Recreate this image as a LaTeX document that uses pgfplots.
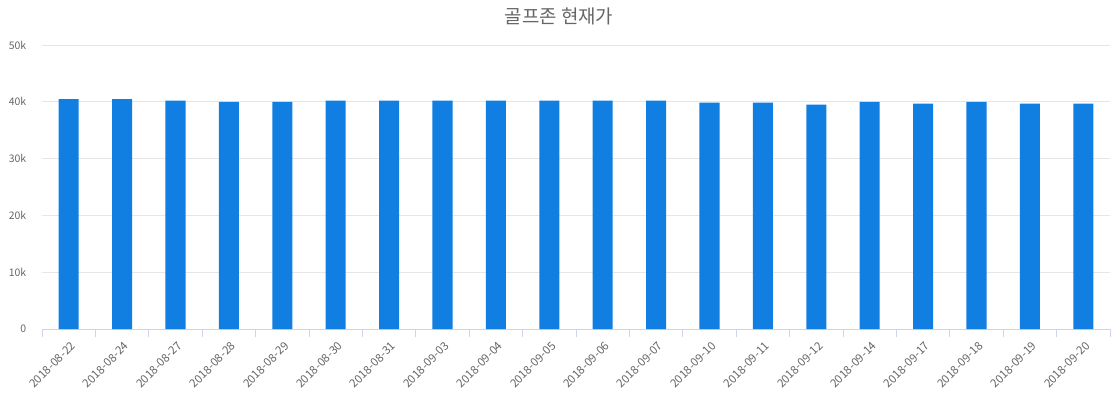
\documentclass[border=0pt]{standalone}
\usepackage{fontspec}
\setmainfont{Noto Sans CJK KR}
\usepackage{pgfplots}
\pgfplotsset{compat=1.18}
\definecolor{barblue}{RGB}{17,127,225}
\definecolor{labelgray}{RGB}{102,102,102}
\definecolor{gridgray}{RGB}{230,230,230}
\definecolor{axisgray}{RGB}{204,214,235}

\pgfplotstableread{
x price
0 40450
1 40450
2 40200
3 40000
4 40000
5 40200
6 40200
7 40200
8 40200
9 40200
10 40200
11 40200
12 39850
13 39850
14 39500
15 40000
16 39700
17 40000
18 39700
19 39700
}\pricedata

\begin{document}
\begin{tikzpicture}[x=1bp,y=1bp]
\path[use as bounding box] (-42bp,-71bp) rectangle (1078bp,329bp);
\begin{axis}[
    at={(0,0)}, anchor=south west,
    scale only axis,
    width=1068bp, height=284bp,
    xmin=-0.5, xmax=19.5,
    ymin=0, ymax=50000,
    axis lines*=left,
    x axis line style={draw=axisgray, line width=0.8pt},
    y axis line style={draw=none},
    xtick={0,...,19},
    xticklabels={2018-08-22,2018-08-24,2018-08-27,2018-08-28,2018-08-29,2018-08-30,2018-08-31,2018-09-03,2018-09-04,2018-09-05,2018-09-06,2018-09-07,2018-09-10,2018-09-11,2018-09-12,2018-09-14,2018-09-17,2018-09-18,2018-09-19,2018-09-20},
    minor xtick={-0.5,0.5,...,19.5},
    major x tick style={draw=none},
    minor x tick style={draw=axisgray, line width=0.8pt},
    minor tick length=8bp,
    tick align=outside,
    ytick={0,10000,20000,30000,40000,50000},
    yticklabels={0,10k,20k,30k,40k,50k},
    scaled y ticks=false,
    major y tick style={draw=none},
    ymajorgrids,
    grid style={draw=gridgray, line width=0.8pt},
    /pgf/number format/assume math mode=true,
    x tick label style={rotate=45, anchor=north east, font=\fontsize{11.5}{13}\selectfont, text=labelgray, xshift=-1bp, yshift=-3bp},
    y tick label style={font=\fontsize{10.5}{12}\selectfont, text=labelgray, xshift=-8bp},
    title={골프존 현재가},
    title style={at={(0.5,1)}, anchor=center, xshift=-17bp, yshift=23bp, font=\fontsize{19}{21}\selectfont, text=labelgray},
]
\addplot[ybar, bar width=0.375, fill=barblue, draw=none] table[x=x, y=price] {\pricedata};
\end{axis}
\end{tikzpicture}
\end{document}
